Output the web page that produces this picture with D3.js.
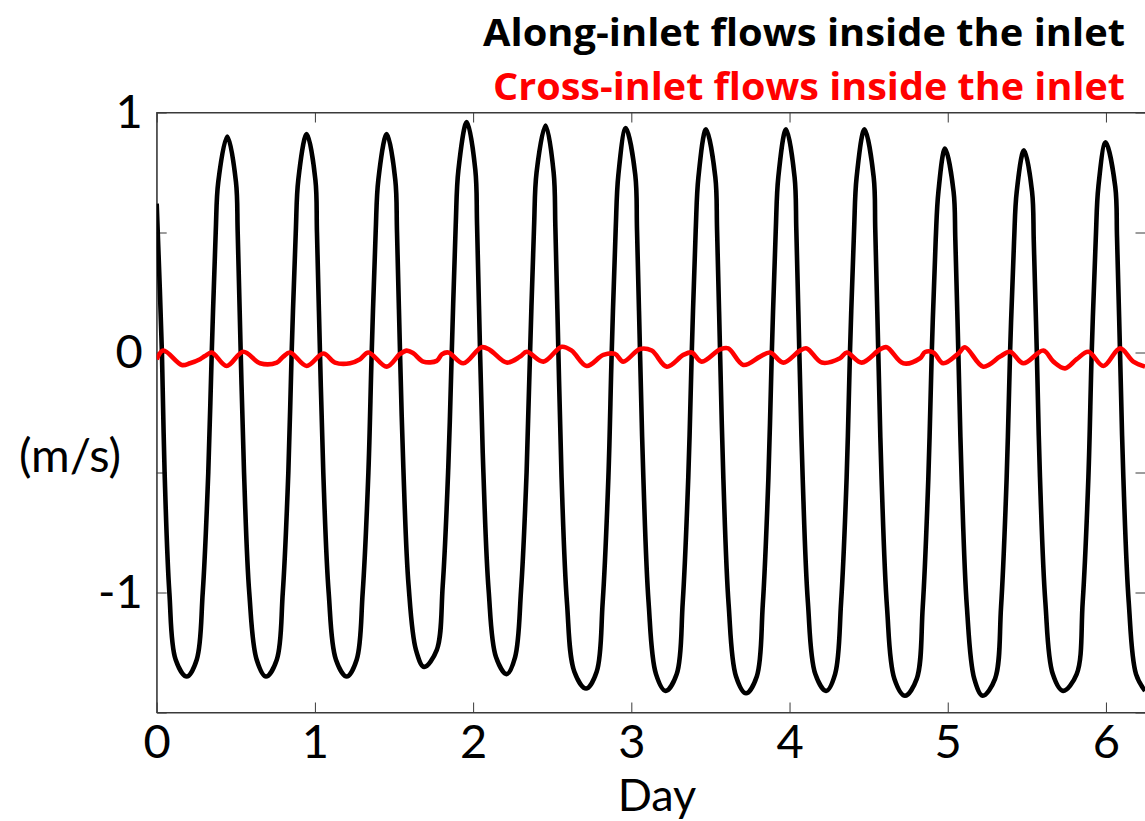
<!DOCTYPE html>
<html>
<head>
<meta charset="utf-8">
<script src="https://cdn.jsdelivr.net/npm/d3@7"></script>
<style>
  body { margin: 0; background: #fff; }
  svg { display: block; font-family: Lato, "Open Sans", sans-serif; }
</style>
</head>
<body>
<svg id="chart"></svg>
<script>
// along-inlet velocity (m/s): troughs, crossings, peaks and a few flank points
var alongDay = [
  0.000, 0.033, 0.050, 0.080, 0.120, 0.190,
  0.253, 0.291, 0.326, 0.348, 0.373, 0.389, 0.446, 0.501, 0.512, 0.531, 0.552, 0.585, 0.632, 0.691,
  0.759, 0.797, 0.832, 0.853, 0.879, 0.895, 0.948, 1.003, 1.013, 1.032, 1.053, 1.087, 1.133, 1.201,
  1.264, 1.302, 1.338, 1.359, 1.384, 1.401, 1.454, 1.508, 1.519, 1.538, 1.559, 1.592, 1.639, 1.690,
  1.770, 1.808, 1.843, 1.865, 1.890, 1.907, 1.960, 2.014, 2.025, 2.044, 2.065, 2.098, 2.145, 2.212,
  2.265, 2.303, 2.338, 2.360, 2.385, 2.401, 2.458, 2.509, 2.520, 2.539, 2.559, 2.593, 2.640, 2.714,
  2.781, 2.819, 2.855, 2.876, 2.901, 2.918, 2.965, 3.025, 3.036, 3.055, 3.076, 3.109, 3.156, 3.217,
  3.287, 3.325, 3.360, 3.382, 3.407, 3.424, 3.472, 3.531, 3.542, 3.561, 3.582, 3.615, 3.662, 3.725,
  3.793, 3.831, 3.866, 3.888, 3.913, 3.929, 3.978, 4.032, 4.043, 4.062, 4.083, 4.116, 4.163, 4.231,
  4.288, 4.326, 4.361, 4.382, 4.408, 4.424, 4.474, 4.532, 4.542, 4.561, 4.582, 4.616, 4.663, 4.730,
  4.804, 4.842, 4.877, 4.899, 4.924, 4.941, 4.983, 5.037, 5.048, 5.067, 5.088, 5.121, 5.168, 5.221,
  5.299, 5.337, 5.372, 5.394, 5.419, 5.436, 5.482, 5.533, 5.544, 5.563, 5.583, 5.617, 5.664, 5.729,
  5.815, 5.853, 5.889, 5.910, 5.936, 5.952, 5.998, 6.059, 6.070, 6.089, 6.110, 6.144, 6.190, 6.247
];
var alongVel = [
  0.62, 0.00, -0.50, -1.00, -1.28, -1.35,
  -1.28, -1.00, -0.50, 0.00, 0.50, 0.71, 0.90, 0.71, 0.50, 0.00, -0.50, -1.00, -1.28, -1.35,
  -1.28, -1.00, -0.50, 0.00, 0.50, 0.72, 0.91, 0.72, 0.50, 0.00, -0.50, -1.00, -1.28, -1.35,
  -1.28, -1.00, -0.50, 0.00, 0.50, 0.72, 0.91, 0.72, 0.50, 0.00, -0.48, -0.97, -1.24, -1.31,
  -1.24, -0.97, -0.48, 0.00, 0.53, 0.76, 0.96, 0.76, 0.53, 0.00, -0.50, -0.99, -1.27, -1.34,
  -1.27, -0.99, -0.50, 0.00, 0.52, 0.75, 0.946, 0.75, 0.52, 0.00, -0.52, -1.04, -1.33, -1.40,
  -1.33, -1.04, -0.52, 0.00, 0.51, 0.74, 0.935, 0.74, 0.51, 0.00, -0.52, -1.04, -1.34, -1.41,
  -1.34, -1.04, -0.52, 0.00, 0.51, 0.73, 0.93, 0.73, 0.51, 0.00, -0.53, -1.05, -1.35, -1.42,
  -1.35, -1.05, -0.53, 0.00, 0.51, 0.73, 0.93, 0.73, 0.51, 0.00, -0.52, -1.04, -1.34, -1.41,
  -1.34, -1.04, -0.52, 0.00, 0.51, 0.73, 0.93, 0.73, 0.51, 0.00, -0.53, -1.06, -1.36, -1.43,
  -1.36, -1.06, -0.53, 0.00, 0.47, 0.67, 0.85, 0.67, 0.47, 0.00, -0.53, -1.06, -1.36, -1.43,
  -1.36, -1.06, -0.53, 0.00, 0.46, 0.67, 0.843, 0.67, 0.46, 0.00, -0.52, -1.04, -1.34, -1.41,
  -1.34, -1.04, -0.52, 0.00, 0.48, 0.69, 0.876, 0.69, 0.48, 0.00, -0.52, -1.04, -1.34, -1.41
];

// cross-inlet velocity (m/s)
var crossDay = [
  0.000, 0.042, 0.158, 0.210, 0.274, 0.305, 0.348, 0.442, 0.547, 0.653, 0.759, 0.800, 0.843,
  0.948, 1.053, 1.127, 1.222, 1.285, 1.338, 1.454, 1.538, 1.580, 1.622, 1.685, 1.770, 1.802,
  1.843, 1.938, 2.054, 2.107, 2.212, 2.297, 2.339, 2.444, 2.560, 2.623, 2.718, 2.823, 2.897,
  2.949, 3.055, 3.129, 3.224, 3.329, 3.382, 3.445, 3.561, 3.613, 3.708, 3.814, 3.877, 3.961,
  4.066, 4.109, 4.204, 4.319, 4.362, 4.456, 4.572, 4.614, 4.719, 4.825, 4.857, 4.909, 4.972,
  5.067, 5.109, 5.225, 5.331, 5.394, 5.478, 5.604, 5.668, 5.741, 5.815, 5.889, 5.984, 6.089,
  6.173, 6.247
];
var crossVel = [
  -0.028, 0.008, -0.052, -0.045, -0.028, -0.015, 0.000, -0.056, 0.003, -0.045, -0.042, -0.017, 0.000,
  -0.056, -0.004, -0.042, -0.045, -0.028, 0.000, -0.059, -0.006, 0.008, -0.003, -0.038, -0.035, -0.008,
  0.000, -0.045, 0.022, 0.010, -0.042, -0.017, 0.003, -0.038, 0.024, 0.008, -0.056, -0.010, -0.006,
  -0.038, 0.015, 0.008, -0.059, -0.010, 0.000, -0.038, 0.013, 0.017, -0.052, -0.017, 0.000, -0.042,
  0.008, 0.017, -0.042, -0.024, 0.000, -0.042, 0.013, 0.022, -0.045, -0.024, 0.002, 0.000, -0.045,
  -0.004, 0.022, -0.059, -0.017, 0.003, -0.045, 0.008, -0.038, -0.066, -0.028, 0.003, -0.056, 0.017,
  -0.038, -0.059
];

var xTicks = [0, 1, 2, 3, 4, 5, 6];
var yTicks = [-1.5, -1, -0.5, 0, 0.5, 1];
var yLabelled = [-1, 0, 1];
var titleLines = ["Along-inlet flows inside the inlet", "Cross-inlet flows inside the inlet"];
var titleColors = ["#000000", "#ff0000"];
var titleWidths = [642, 632];

var width = 1145, height = 821;
var x = d3.scaleLinear().domain([0, 6.25]).range([156.7, 1145.5]);
var y = d3.scaleLinear().domain([-1.5, 1]).range([712.5, 112.5]);

var svg = d3.select("#chart").attr("width", width).attr("height", height);

svg.append("clipPath").attr("id", "plotClip")
  .append("rect")
  .attr("x", x(0)).attr("y", y(1))
  .attr("width", x(6.25) - x(0)).attr("height", y(-1.5) - y(1));

// frame
svg.append("rect")
  .attr("x", x(0)).attr("y", y(1))
  .attr("width", x(6.25) - x(0)).attr("height", y(-1.5) - y(1))
  .attr("fill", "none").attr("stroke", "#3a3a3a").attr("stroke-width", 1);

// plain hyphen for negatives, like the original
var fmtY = function(d) { return yLabelled.indexOf(d) >= 0 ? String(d) : ""; };

var xAxis = svg.append("g").attr("transform", "translate(0," + y(-1.5) + ")")
  .call(d3.axisBottom(x).tickValues(xTicks).tickSizeInner(-10).tickSizeOuter(0).tickPadding(12).tickFormat(String));
var xTop = svg.append("g").attr("transform", "translate(0," + y(1) + ")")
  .call(d3.axisTop(x).tickValues(xTicks).tickSizeInner(-10).tickSizeOuter(0).tickFormat(""));
var yAxis = svg.append("g").attr("transform", "translate(" + x(0) + ",0)")
  .call(d3.axisLeft(y).tickValues(yTicks).tickSizeInner(-10).tickSizeOuter(0).tickPadding(14).tickFormat(fmtY));
var yRight = svg.append("g").attr("transform", "translate(" + x(6.25) + ",0)")
  .call(d3.axisRight(y).tickValues(yTicks).tickSizeInner(-10).tickSizeOuter(0).tickFormat(""));

[xAxis, xTop, yAxis, yRight].forEach(function(g) {
  g.select(".domain").attr("stroke", "#3a3a3a");
  g.selectAll(".tick line").attr("stroke", "#3a3a3a");
  g.selectAll("text").attr("font-size", 47).attr("fill", "#000").attr("font-family", "Lato, sans-serif");
});

// series
var line = d3.line()
  .x(function(d) { return x(d[0]); })
  .y(function(d) { return y(d[1]); })
  .curve(d3.curveCatmullRom.alpha(0.5));

var plot = svg.append("g").attr("clip-path", "url(#plotClip)");
plot.append("path")
  .datum(alongDay.map(function(d, i) { return [d, alongVel[i]]; }))
  .attr("d", line)
  .attr("fill", "none").attr("stroke", "#000").attr("stroke-width", 4.6)
  .attr("stroke-linejoin", "round");
plot.append("path")
  .datum(crossDay.map(function(d, i) { return [d, crossVel[i]]; }))
  .attr("d", line)
  .attr("fill", "none").attr("stroke", "#ff0000").attr("stroke-width", 4.6)
  .attr("stroke-linejoin", "round");

// labels
svg.append("text")
  .attr("x", 657).attr("y", 811)
  .attr("text-anchor", "middle").attr("font-size", 45).attr("fill", "#000")
  .text("Day");
svg.append("text")
  .attr("x", 70).attr("y", 472)
  .attr("text-anchor", "middle").attr("font-size", 47).attr("fill", "#000")
  .text("(m/s)");

svg.selectAll(".title").data(titleLines).enter()
  .append("text")
  .attr("class", "title")
  .attr("x", 1125)
  .attr("y", function(d, i) { return 46 + i * 54; })
  .attr("text-anchor", "end")
  .attr("font-family", "'Open Sans', sans-serif")
  .attr("font-size", 37).attr("font-weight", "bold")
  .attr("textLength", function(d, i) { return titleWidths[i]; })
  .attr("lengthAdjust", "spacingAndGlyphs")
  .attr("fill", function(d, i) { return titleColors[i]; })
  .text(function(d) { return d; });
</script>
</body>
</html>
